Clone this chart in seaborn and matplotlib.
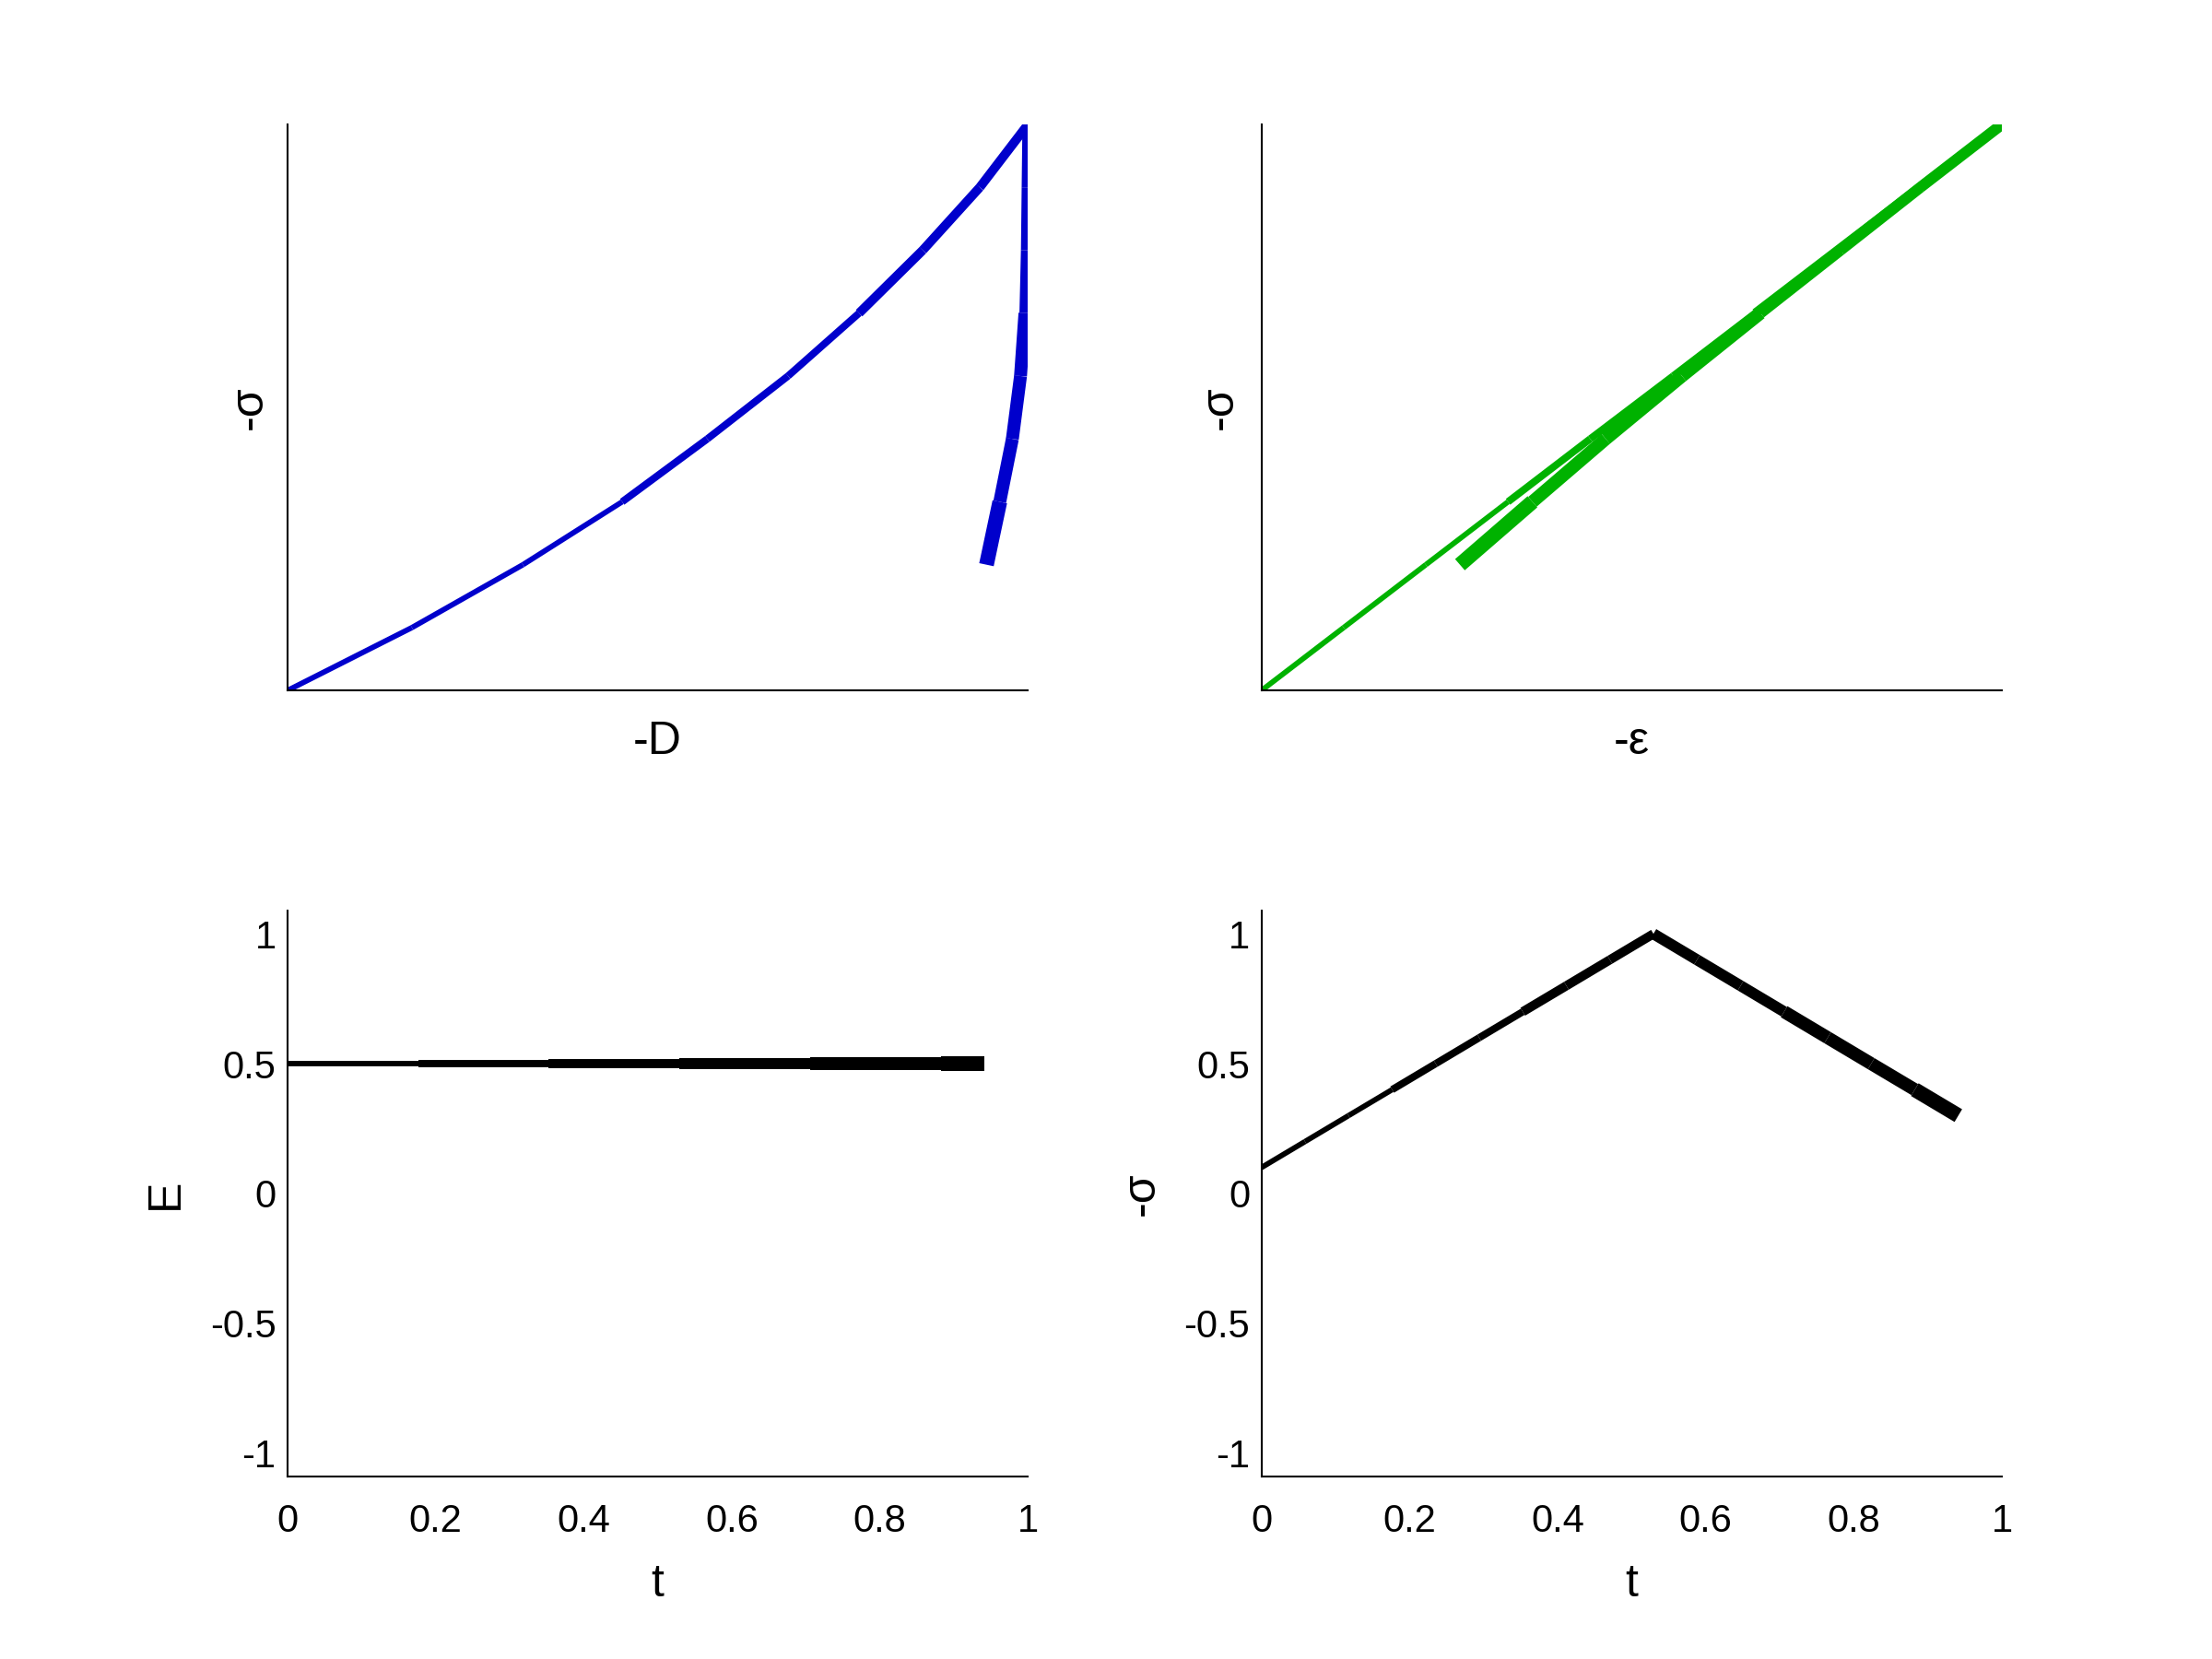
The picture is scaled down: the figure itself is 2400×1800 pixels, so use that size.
import numpy as np
import pandas as pd
import seaborn as sns
import matplotlib.pyplot as plt

# time nodes (t = k/17), stress history: linear loading then unloading
t = [0.0, 0.0588, 0.1176, 0.1765, 0.2353, 0.2941, 0.3529, 0.4118, 0.4706,
     0.5294, 0.5882, 0.6471, 0.7059, 0.7647, 0.8235, 0.8824, 0.9412]
sigma = [0.1, 0.2, 0.3, 0.4, 0.5, 0.6, 0.7, 0.8, 0.9,
         1.0, 0.9, 0.8, 0.7, 0.6, 0.5, 0.4, 0.3]
E = [0.5, 0.5, 0.5, 0.5, 0.5, 0.5, 0.5, 0.5, 0.5,
     0.5, 0.5, 0.5, 0.5, 0.5, 0.5, 0.5, 0.5]
# -D and -eps (normalised to their axis range)
D = [0.0, 0.168, 0.318, 0.452, 0.567, 0.676, 0.772, 0.858, 0.935,
     1.0, 0.999, 0.998, 0.996, 0.990, 0.979, 0.962, 0.944]
eps = [0.0, 0.111, 0.222, 0.333, 0.444, 0.556, 0.667, 0.778, 0.889,
       1.0, 0.890, 0.782, 0.674, 0.568, 0.465, 0.366, 0.268]

t_ticks = [0, 0.2, 0.4, 0.6, 0.8, 1]
t_ticklabels = ['0', '0.2', '0.4', '0.6', '0.8', '1']
y_ticks = [-1, -0.5, 0, 0.5, 1]
y_ticklabels = ['-1', '-0.5', '0', '0.5', '1']

BLUE = '#0000CC'
GREEN = '#00B200'

sns.set_theme(style='white')
plt.rcParams['font.family'] = ['Liberation Sans', 'DejaVu Sans']
plt.rcParams['axes.unicode_minus'] = False
plt.rcParams['text.color'] = 'black'
plt.rcParams['axes.labelcolor'] = 'black'
plt.rcParams['xtick.color'] = 'black'
plt.rcParams['ytick.color'] = 'black'


def segments(xs, ys):
    # one two-point piece per time step, line width grows every 3 steps
    rows = []
    for k in range(len(xs) - 1):
        for j in (k, k + 1):
            rows.append({'x': xs[j], 'y': ys[j], 'seg': k, 'grp': k // 3})
    return pd.DataFrame(rows)


def draw(ax, xs, ys, color):
    df = segments(xs, ys)
    sns.lineplot(data=df, x='x', y='y', units='seg', size='grp',
                 sizes=(1.4, 3.85), estimator=None, sort=False,
                 color=color, legend=False, ax=ax,
                 solid_capstyle='butt', solid_joinstyle='miter')


def style(ax):
    sns.despine(ax=ax)
    for s in ('left', 'bottom'):
        ax.spines[s].set_color('black')
        ax.spines[s].set_linewidth(0.5)
    ax.tick_params(direction='in', length=1.9, width=0.5, colors='black',
                   labelcolor='black', labelsize=10)
    ax.tick_params(axis='x', pad=7)
    ax.tick_params(axis='y', pad=3)


fig = plt.figure(figsize=(8, 6), dpi=300)
pos = {
    'tl': [0.13, 0.5838, 0.3347, 0.3412],
    'tr': [0.5703, 0.5838, 0.3347, 0.3412],
    'bl': [0.13, 0.11, 0.3347, 0.3412],
    'br': [0.5703, 0.11, 0.3347, 0.3412],
}
axes = {k: fig.add_axes(v) for k, v in pos.items()}

# top left: -D vs -sigma
ax = axes['tl']
draw(ax, D, sigma, BLUE)
ax.set_xlim(0, 1)
ax.set_ylim(0.1, 1.0)
ax.set_xticks([])
ax.set_yticks([])
style(ax)
ax.set_xlabel('-D', fontsize=12)
ax.set_ylabel('-σ', fontsize=12)
ax.xaxis.set_label_coords(0.5, -0.053)
ax.yaxis.set_label_coords(-0.023, 0.5)

# top right: -eps vs -sigma
ax = axes['tr']
draw(ax, eps, sigma, GREEN)
ax.set_xlim(0, 1)
ax.set_ylim(0.1, 1.0)
ax.set_xticks([])
ax.set_yticks([])
style(ax)
ax.set_xlabel('-ε', fontsize=12)
ax.set_ylabel('-σ', fontsize=12)
ax.xaxis.set_label_coords(0.5, -0.053)
ax.yaxis.set_label_coords(-0.027, 0.5)

# bottom left: E(t)
ax = axes['bl']
draw(ax, t, E, 'black')
ax.set_xlim(0, 1)
ax.set_ylim(-1.09, 1.09)
ax.set_xticks(t_ticks, t_ticklabels)
ax.set_yticks(y_ticks, y_ticklabels)
style(ax)
ax.set_xlabel('t', fontsize=12)
ax.set_ylabel('E', fontsize=12)
ax.xaxis.set_label_coords(0.5, -0.153)
ax.yaxis.set_label_coords(-0.136, 0.5)

# bottom right: -sigma(t)
ax = axes['br']
draw(ax, t, sigma, 'black')
ax.set_xlim(0, 1)
ax.set_ylim(-1.09, 1.09)
ax.set_xticks(t_ticks, t_ticklabels)
ax.set_yticks(y_ticks, y_ticklabels)
style(ax)
ax.set_xlabel('t', fontsize=12)
ax.set_ylabel('-σ', fontsize=12)
ax.xaxis.set_label_coords(0.5, -0.153)
ax.yaxis.set_label_coords(-0.133, 0.5)

fig.savefig('out.png', dpi=300, facecolor='white')
